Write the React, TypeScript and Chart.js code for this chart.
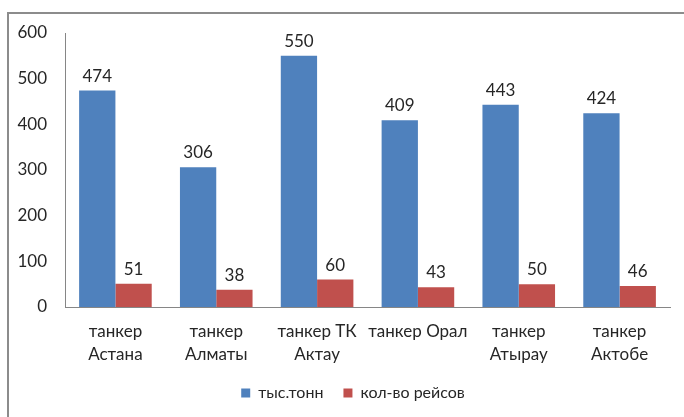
import React, { useEffect, useRef } from "react";
import { Chart, registerables } from "chart.js";

Chart.register(...registerables);

const categories: string[][] = [
  ["танкер", "Астана"],
  ["танкер", "Алматы"],
  ["танкер ТК", "Актау"],
  ["танкер Орал"],
  ["танкер", "Атырау"],
  ["танкер", "Актобе"],
];
const tonnes = [474, 306, 550, 409, 443, 424];
const trips = [51, 38, 60, 43, 50, 46];
const seriesNames = ["тыс.тонн", "кол-во рейсов"];
const yTicks = [0, 100, 200, 300, 400, 500, 600];

const FONT = "Lato, 'Noto Sans', 'DejaVu Sans', sans-serif";
const TEXT = "#262626";

const valueLabels = {
  id: "valueLabels",
  afterDatasetsDraw(chart: any) {
    const ctx = chart.ctx;
    ctx.save();
    ctx.font = `17px ${FONT}`;
    ctx.fillStyle = TEXT;
    ctx.textAlign = "center";
    ctx.textBaseline = "alphabetic";
    chart.data.datasets.forEach((ds: any, i: number) => {
      const meta = chart.getDatasetMeta(i);
      meta.data.forEach((bar: any, j: number) => {
        ctx.fillText(String(ds.data[j]), bar.x, bar.y - 9);
      });
    });
    ctx.restore();
  },
};

const legendShift = {
  id: "legendShift",
  afterLayout(chart: any) {
    const lg = chart.legend;
    if (lg) {
      lg.left += 18;
      lg.right += 18;
    }
  },
};

export default function App() {
  const ref = useRef<HTMLCanvasElement>(null);
  useEffect(() => {
    if (!ref.current) return;
    const chart = new Chart(ref.current, {
      type: "bar",
      data: {
        labels: categories,
        datasets: [
          { label: seriesNames[0], data: tonnes, backgroundColor: "#4F81BD" },
          { label: seriesNames[1], data: trips, backgroundColor: "#C0504D" },
        ],
      },
      options: {
        animation: false,
        responsive: false,
        maintainAspectRatio: false,
        layout: { padding: { left: 0, right: 14, top: 33, bottom: 6 } },
        datasets: { bar: { categoryPercentage: 0.72, barPercentage: 1 } },
        scales: {
          x: {
            grid: { display: false, drawTicks: false },
            border: { display: true, color: "#868686", width: 1 },
            ticks: {
              font: { size: 17, family: FONT, lineHeight: 1.35 },
              color: TEXT,
              padding: 13,
              maxRotation: 0,
              autoSkip: false,
            },
            afterFit(scale: any) {
              scale.height = 58;
            },
          },
          y: {
            min: 0,
            max: 600,
            afterBuildTicks(scale: any) {
              scale.ticks = yTicks.map((v) => ({ value: v }));
            },
            grid: { display: false, drawTicks: false },
            border: { display: true, color: "#868686", width: 1 },
            ticks: {
              font: { size: 17, family: FONT },
              color: TEXT,
              padding: 18,
            },
            afterFit(scale: any) {
              scale.width = 65;
            },
          },
        },
        plugins: {
          tooltip: { enabled: false },
          legend: {
            position: "bottom",
            labels: {
              font: { size: 16, family: FONT },
              color: TEXT,
              boxWidth: 9,
              boxHeight: 9,
              padding: 20,
            },
          },
        },
      },
      plugins: [valueLabels, legendShift],
    });
    return () => chart.destroy();
  }, []);

  return (
    <div style={{ position: "fixed", left: 0, top: 0, width: 684, height: 417, background: "#fff", overflow: "hidden" }}>
      <div
        style={{
          position: "absolute",
          left: 7,
          top: 12,
          width: 760,
          height: 500,
          borderTop: "2px solid #8c8c8c",
          borderLeft: "2px solid #8c8c8c",
        }}
      />
      <canvas ref={ref} width={684} height={417} style={{ position: "absolute", left: 0, top: 0 }} />
    </div>
  );
}
